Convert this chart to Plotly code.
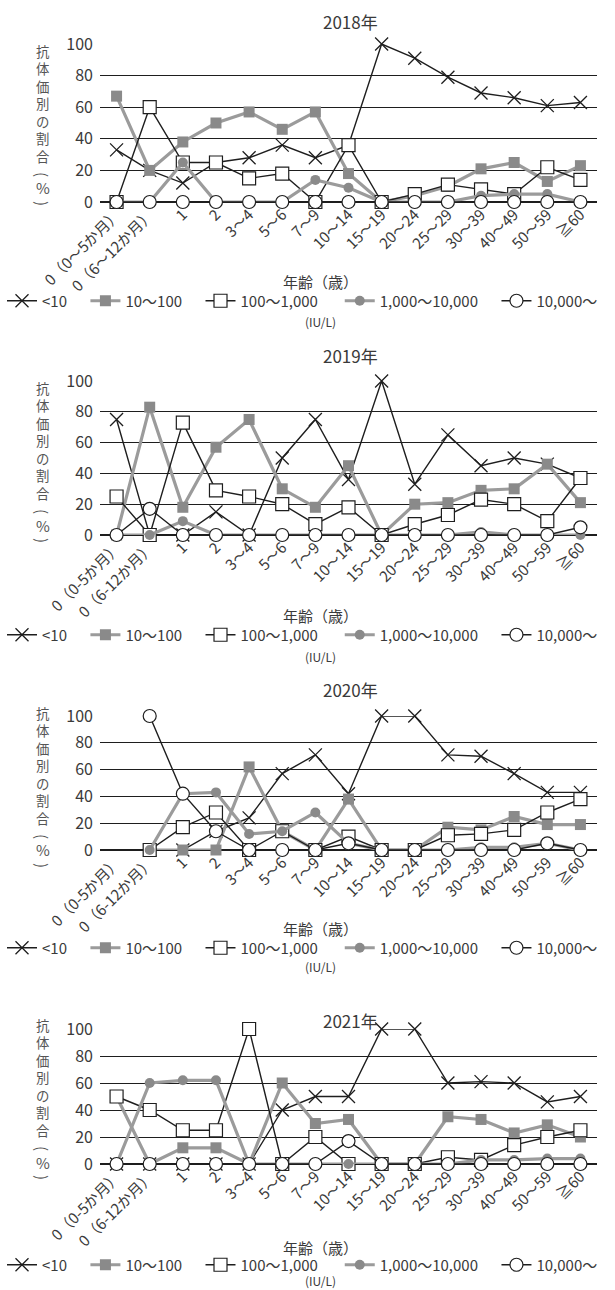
import plotly.graph_objects as go

W, H = 615, 1290

# Age groups on the x axis
ages_2018 = ["0（0～5か月）", "0（6～12か月）", "1", "2", "3～4", "5～6", "7～9", "10～14",
             "15～19", "20～24", "25～29", "30～39", "40～49", "50～59", "≧60"]
ages_later = ["0（0-5か月）", "0（6-12か月）"] + ages_2018[2:]

series_names = ["<10", "10～100", "100～1,000", "1,000～10,000", "10,000～"]
# trailing gaps after each legend entry
name_pads = [4, 4, 5, 4, 0]

# Share of each antibody titer group (%) by age group
y2018_lt10 = [33, 20, 12, 25, 28, 36, 28, 36, 100, 91, 79, 69, 66, 61, 63]
y2018_10_100 = [67, 20, 38, 50, 57, 46, 57, 18, 0, 4, 10, 21, 25, 13, 23]
y2018_100_1k = [0, 60, 25, 25, 15, 18, 0, 36, 0, 5, 11, 8, 5, 22, 14]
y2018_1k_10k = [0, 0, 25, 0, 0, 0, 14, 9, 0, 0, 0, 4, 5, 5, 0]
y2018_10k = [0, 0, 0, 0, 0, 0, 0, 0, 0, 0, 0, 0, 0, 0, 0]

y2019_lt10 = [75, 0, 0, 15, 0, 50, 75, 36, 100, 33, 65, 45, 50, 46, 37]
y2019_10_100 = [0, 83, 18, 57, 75, 30, 18, 45, 0, 20, 21, 29, 30, 46, 21]
y2019_100_1k = [25, 0, 73, 29, 25, 20, 7, 18, 0, 7, 13, 23, 20, 9, 37]
y2019_1k_10k = [0, 0, 9, 0, 0, 0, 0, 0, 0, 0, 0, 2, 0, 0, 0]
y2019_10k = [0, 17, 0, 0, 0, 0, 0, 0, 0, 0, 0, 0, 0, 0, 5]

y2020_lt10 = [None, 0, 0, 14, 24, 57, 71, 42, 100, 100, 71, 70, 57, 43, 43]
y2020_10_100 = [None, 0, 0, 0, 62, 14, 0, 38, 0, 0, 17, 15, 25, 19, 19]
y2020_100_1k = [None, 0, 17, 28, 0, 14, 0, 10, 0, 0, 11, 12, 15, 28, 38]
y2020_1k_10k = [None, 0, 42, 43, 12, 14, 28, 5, 0, 0, 0, 2, 2, 5, 0]
y2020_10k = [None, 100, 42, 14, 0, 0, 0, 5, 0, 0, 0, 0, 0, 5, 0]

y2021_lt10 = [0, 0, 0, 0, 0, 40, 50, 50, 100, 100, 60, 61, 60, 46, 50]
y2021_10_100 = [50, 0, 12, 12, 0, 60, 30, 33, 0, 0, 35, 33, 23, 29, 20]
y2021_100_1k = [50, 40, 25, 25, 100, 0, 20, 0, 0, 0, 5, 3, 14, 20, 25]
y2021_1k_10k = [0, 60, 62, 62, 0, 0, 0, 0, 0, 0, 0, 3, 3, 4, 4]
y2021_10k = [0, 0, 0, 0, 0, 0, 0, 17, 0, 0, 0, 0, 0, 0, 0]

years = ["2018年", "2019年", "2020年", "2021年"]
panels = [
    (ages_2018, [y2018_lt10, y2018_10_100, y2018_100_1k, y2018_1k_10k, y2018_10k]),
    (ages_later, [y2019_lt10, y2019_10_100, y2019_100_1k, y2019_1k_10k, y2019_10k]),
    (ages_later, [y2020_lt10, y2020_10_100, y2020_100_1k, y2020_1k_10k, y2020_10k]),
    (ages_later, [y2021_lt10, y2021_10_100, y2021_100_1k, y2021_1k_10k, y2021_10k]),
]

BLACK = "#1e1e1e"
GRAY_LINE = "#9b9b9b"
GRAY_MARK = "#8a8a8a"
TEXT = "#3a3a3a"
FONT = "Noto Sans CJK JP"

styles = [
    dict(line=dict(color=BLACK, width=1.4),
         marker=dict(symbol="x-thin-open", size=13, line=dict(color=BLACK, width=1.3))),
    dict(line=dict(color=GRAY_LINE, width=3.2),
         marker=dict(symbol="square", size=11, color=GRAY_MARK, line=dict(width=0))),
    dict(line=dict(color=BLACK, width=1.4),
         marker=dict(symbol="square", size=13, color="white", line=dict(color=BLACK, width=1.2))),
    dict(line=dict(color=GRAY_LINE, width=3.2),
         marker=dict(symbol="circle", size=10, color=GRAY_MARK, line=dict(width=0))),
    dict(line=dict(color=BLACK, width=1.4),
         marker=dict(symbol="circle", size=13, color="white", line=dict(color=BLACK, width=1.2))),
]

# pixel rows (top of y=100, bottom y=0) of each panel
plot_rows = [(44, 202), (381, 535), (716, 850), (1029, 1164)]
title_y = [22, 355, 690, 1020]
xlabel_y = [281, 615, 928, 1247]
legend_y = [301, 635, 948, 1265]
unit_y = [322, 656, 967, 1280]
ylabel_top = [48, 385, 710, 1022]

# vertical y-axis title: stacked glyphs, then the unit with sideways brackets
ylabel_main = "<br>".join("抗体価別の割合")
ylabel_unit = [("(", 126, 90), ("%", 140, 0), (")", 155, 90)]


def py(pix):
    return 1 - pix / H


def px(pix):
    return pix / W


def label(text, x, y, size, color=TEXT, angle=0, yanchor="middle"):
    return dict(text=text, x=px(x), y=py(y), xref="paper", yref="paper",
                xanchor="center", yanchor=yanchor, showarrow=False, textangle=angle,
                font=dict(size=size, color=color, family=FONT))


x_dom = [px(100), px(597)]

fig = go.Figure()
annotations = []
layout_axes = {}

for i, (cats, vals) in enumerate(panels):
    n = i + 1
    xa = "x" if n == 1 else f"x{n}"
    ya = "y" if n == 1 else f"y{n}"
    lg = "legend" if n == 1 else f"legend{n}"
    for name, pad, v, st in zip(series_names, name_pads, vals, styles):
        fig.add_trace(go.Scatter(
            x=cats, y=v, name=name + "\u00a0" * pad, mode="lines+markers",
            xaxis=xa, yaxis=ya, legend=lg, cliponaxis=False,
            connectgaps=False, **st))
    top, bot = plot_rows[i]
    xkey = "xaxis" if n == 1 else f"xaxis{n}"
    ykey = "yaxis" if n == 1 else f"yaxis{n}"
    layout_axes[xkey] = dict(
        domain=x_dom, anchor=ya, type="category", range=[-0.5, 14.5],
        tickangle=-45, tickfont=dict(size=15, color=TEXT, family=FONT),
        showgrid=False, showline=False, ticks="", zeroline=False, automargin=False,
        categoryorder="array", categoryarray=cats)
    layout_axes[ykey] = dict(
        domain=[py(bot), py(top)], anchor=xa, range=[0, 100],
        tickvals=[0, 20, 40, 60, 80, 100],
        tickfont=dict(size=16, color=TEXT, family=FONT),
        showgrid=True, gridcolor=BLACK, gridwidth=1,
        zeroline=True, zerolinecolor=BLACK, zerolinewidth=2.2,
        showline=False, ticks="", ticklabelstandoff=6, automargin=False)
    layout_axes[lg] = dict(
        orientation="h", x=px(2), xanchor="left", y=py(legend_y[i]), yanchor="middle",
        font=dict(size=15, color=TEXT, family=FONT), bgcolor="rgba(0,0,0,0)",
        tracegroupgap=0, itemwidth=30, traceorder="normal")

    annotations.append(label(years[i], 350, title_y[i], 17))
    annotations.append(label("年齢（歳）", 320, xlabel_y[i], 15))
    annotations.append(label("(IU/L)", 320, unit_y[i], 12))
    annotations.append(label(ylabel_main, 43, ylabel_top[i] - 9, 13.4, "#555555", yanchor="top"))
    for ch, off, ang in ylabel_unit:
        annotations.append(label(ch, 43, ylabel_top[i] + off, 15, "#555555", ang))

fig.update_layout(
    width=W, height=H, margin=dict(l=0, r=0, t=0, b=0, autoexpand=False),
    paper_bgcolor="white", plot_bgcolor="white",
    font=dict(family=FONT, color=TEXT),
    annotations=annotations, showlegend=True,
    **layout_axes)

fig.write_html("out.html")
